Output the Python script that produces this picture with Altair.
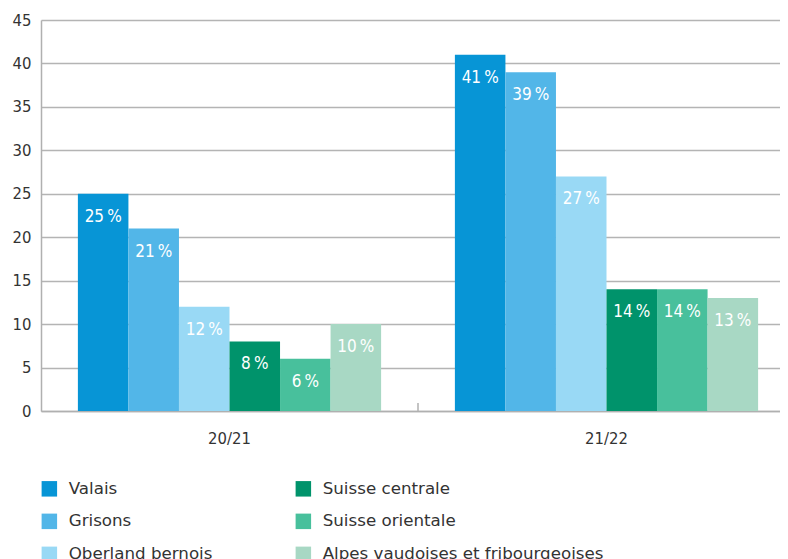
import altair as alt
import pandas as pd

seasons = ["20/21", "21/22"]
regions = ["Valais", "Grisons", "Oberland bernois", "Suisse centrale",
           "Suisse orientale", "Alpes vaudoises et fribourgeoises"]
colors = ["#0795D6", "#52B6E8", "#99D9F5", "#00936B", "#48C09C", "#A8D8C4"]
values_2021 = [25, 21, 12, 8, 6, 10]
values_2122 = [41, 39, 27, 14, 14, 13]

rows = []
for s, vals in zip(seasons, [values_2021, values_2122]):
    for r, v in zip(regions, vals):
        rows.append({"season": s, "region": r, "value": v,
                     "label": f"{v}\u2009%"})
df = pd.DataFrame(rows)

FONT = "DejaVu Sans Condensed"
LFONT = "DejaVu Sans"
W, H = 739, 391

xenc = alt.X("season:N", sort=seasons, title=None,
             scale=alt.Scale(range=[0, 754], paddingInner=0, paddingOuter=0),
             axis=alt.Axis(labelAngle=0, ticks=False, labelPadding=19,
                           labelFontSize=16.5, labelColor="#333333", labelFont=FONT,
                           domainColor="#b0b0b0", domainWidth=1.5, grid=False))
xoff = alt.XOffset("region:N", sort=regions,
                   scale=alt.Scale(paddingInner=0, paddingOuter=0.73))

base = alt.Chart(df)

bars = base.mark_bar().encode(
    x=xenc,
    xOffset=xoff,
    y=alt.Y("value:Q", title=None,
            scale=alt.Scale(domain=[0, 45]),
            axis=alt.Axis(values=list(range(0, 50, 5)), ticks=False, labelPadding=10,
                          labelFontSize=16.5, labelColor="#333333", labelFont=FONT,
                          domainColor="#b0b0b0", domainWidth=1.5,
                          gridColor="#b4b4b4", gridWidth=1.5)),
    color=alt.Color("region:N",
                    scale=alt.Scale(domain=regions, range=colors),
                    legend=alt.Legend(title=None, orient="none", legendX=0, legendY=460,
                                      columns=2, columnPadding=82, rowPadding=15,
                                      symbolType="square", symbolSize=240,
                                      symbolStrokeWidth=0, symbolOpacity=1,
                                      labelFontSize=16.7, labelColor="#333333",
                                      labelFont=LFONT, labelOffset=11, labelLimit=400)),
)

labels = base.mark_text(color="white", fontSize=17, font=FONT,
                        baseline="middle", dy=23).encode(
    x=alt.X("season:N", sort=seasons),
    xOffset=xoff,
    y=alt.Y("value:Q"),
    text="label:N",
)

tick = alt.Chart(pd.DataFrame({"season": [seasons[1]]})).mark_rule(
    color="#b0b0b0", strokeWidth=1.5).encode(
    x=alt.X("season:N", sort=seasons, bandPosition=0),
    y=alt.value(H - 8), y2=alt.value(H),
)

chart = alt.layer(bars, labels, tick).properties(
    width=W, height=H,
    autosize=alt.AutoSizeParams(type="none"),
    padding={"left": 33, "top": 12, "right": 0, "bottom": 148},
).configure_view(stroke=None)

chart.save("out.html", embed_options={"renderer": "svg", "actions": False})
